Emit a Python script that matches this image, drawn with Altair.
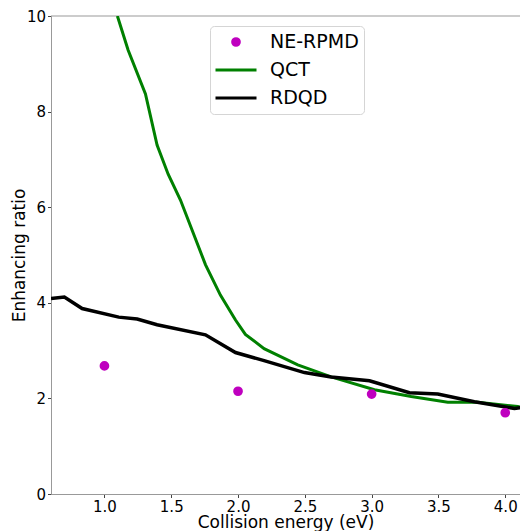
import altair as alt
import pandas as pd

series = ["NE-RPMD", "QCT", "RDQD"]
colors = ["#bf00bf", "#008000", "#000000"]
shapes = ["circle", "stroke", "stroke"]
sizes = [45, 1681, 1681]

# NE-RPMD points
rpmd_x = [1.0, 2.0, 3.0, 4.0]
rpmd_y = [2.68, 2.15, 2.09, 1.70]

# QCT curve
qct_x = [1.097, 1.177, 1.307, 1.394, 1.477, 1.569, 1.756, 1.868, 1.981, 2.055,
         2.195, 2.447, 2.697, 3.021, 3.296, 3.570, 3.794, 4.094, 4.174]
qct_y = [10.0, 9.29, 8.37, 7.30, 6.69, 6.15, 4.80, 4.16, 3.64, 3.34,
         3.04, 2.70, 2.45, 2.18, 2.04, 1.92, 1.92, 1.83, 1.79]

# RDQD curve
rdqd_x = [0.60, 0.70, 0.833, 1.107, 1.245, 1.394, 1.756, 1.981, 2.195, 2.497,
          2.697, 2.984, 3.283, 3.495, 3.769, 4.069, 4.174]
rdqd_y = [4.09, 4.12, 3.88, 3.70, 3.66, 3.54, 3.33, 2.96, 2.79, 2.54,
          2.45, 2.37, 2.12, 2.09, 1.93, 1.79, 1.83]

x_ticks = [1.0, 1.5, 2.0, 2.5, 3.0, 3.5, 4.0]
y_ticks = [0, 2, 4, 6, 8, 10]
y_top = [10]

df_pts = pd.DataFrame({"x": rpmd_x, "y": rpmd_y, "series": "NE-RPMD"})
df_qct = pd.DataFrame({"x": qct_x, "y": qct_y, "series": "QCT"})
df_rdqd = pd.DataFrame({"x": rdqd_x, "y": rdqd_y, "series": "RDQD"})
df_top = pd.DataFrame({"y": y_top})

FONT = "DejaVu Sans"

xscale = alt.Scale(domain=[0.6, 4.1105], nice=False, zero=False)
yscale = alt.Scale(domain=[0, 10], nice=False)

xenc = alt.X("x:Q", scale=xscale,
             axis=alt.Axis(title="Collision energy (eV)", values=x_ticks, format=".1f",
                           titlePadding=0))
yenc = alt.Y("y:Q", scale=yscale,
             axis=alt.Axis(title="Enhancing ratio", values=y_ticks, format="d",
                           titlePadding=-2))

legend = alt.Legend(
    title=None, orient="none", legendX=159, legendY=10, direction="vertical",
    fillColor="white", strokeColor="#d5d5d5", cornerRadius=4, padding=5,
    labelFont=FONT, labelFontSize=19, labelColor="black",
    symbolStrokeWidth=3, symbolOpacity=1,
    clipHeight=22, rowPadding=6, labelOffset=12, symbolOffset=-1,
)

color = alt.Color("series:N", scale=alt.Scale(domain=series, range=colors), legend=legend)
shape = alt.Shape("series:N", scale=alt.Scale(domain=series, range=shapes), legend=legend)
size = alt.Size("series:N", scale=alt.Scale(type="ordinal", domain=series, range=sizes),
                legend=legend)

top_spine = alt.Chart(df_top).mark_rule(color="#999999", strokeWidth=1).encode(
    y=alt.Y("y:Q", scale=yscale))
qct = alt.Chart(df_qct).mark_line(strokeWidth=3, clip=True).encode(
    x=xenc, y=yenc, color=color)
rdqd = alt.Chart(df_rdqd).mark_line(strokeWidth=3.5, clip=True).encode(
    x=xenc, y=yenc, color=color)
pts = alt.Chart(df_pts).mark_point(filled=True, opacity=1, stroke=colors[0],
                                   strokeWidth=3).encode(
    x=xenc, y=yenc, color=color, shape=shape, size=size)

chart = alt.layer(top_spine, qct, rdqd, pts).properties(
    width=469, height=478,
    autosize=alt.AutoSizeParams(type="none"),
    padding={"left": 43, "top": 8, "right": 0, "bottom": 37},
).configure_view(
    stroke=None
).configure_axis(
    grid=False,
    labelFont=FONT, labelFontSize=15, labelColor="black",
    titleFont=FONT, titleFontSize=17, titleFontWeight="normal", titleColor="black",
    domainColor="#999999", domainWidth=1,
    tickColor="#444444", tickSize=3.5, tickWidth=1,
    labelPadding=2,
)

chart.save("out.html", embed_options={"renderer": "svg", "actions": False})
